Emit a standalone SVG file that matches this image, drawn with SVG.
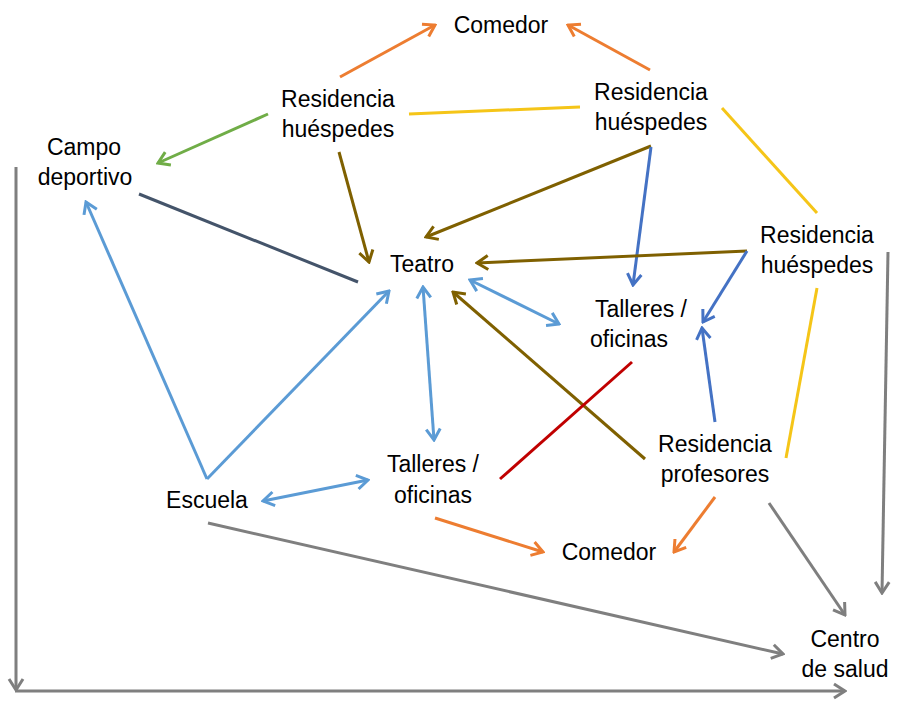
<svg xmlns="http://www.w3.org/2000/svg" width="906" height="707" viewBox="0 0 906 707">
<style>
  text { font-family: "Liberation Sans", Arial, sans-serif; font-size: 23px; fill: #000; text-anchor: middle; }
  line, path.c { stroke-width: 3; fill: none; }
  .or { stroke: #ED7D31; }
  .ye { stroke: #F5C518; }
  .gr { stroke: #70AD47; }
  .nv { stroke: #44546A; }
  .ol { stroke: #7F6000; }
  .bl { stroke: #4472C4; }
  .lb { stroke: #5B9BD5; }
  .rd { stroke: #C00000; }
  .gy { stroke: #7F7F7F; }
  marker path { fill: none; stroke-width: 3; stroke-linejoin: miter; }
</style>
<defs>
  <marker id="a-or" viewBox="-14 -10 16 20" refX="0" refY="0" markerWidth="16" markerHeight="20" markerUnits="userSpaceOnUse" orient="auto-start-reverse"><path d="M-11,-7 L0,0 L-11,7" stroke="#ED7D31"/></marker>
  <marker id="a-gr" viewBox="-14 -10 16 20" refX="0" refY="0" markerWidth="16" markerHeight="20" markerUnits="userSpaceOnUse" orient="auto-start-reverse"><path d="M-11,-7 L0,0 L-11,7" stroke="#70AD47"/></marker>
  <marker id="a-ol" viewBox="-14 -10 16 20" refX="0" refY="0" markerWidth="16" markerHeight="20" markerUnits="userSpaceOnUse" orient="auto-start-reverse"><path d="M-11,-7 L0,0 L-11,7" stroke="#7F6000"/></marker>
  <marker id="a-bl" viewBox="-14 -10 16 20" refX="0" refY="0" markerWidth="16" markerHeight="20" markerUnits="userSpaceOnUse" orient="auto-start-reverse"><path d="M-11,-7 L0,0 L-11,7" stroke="#4472C4"/></marker>
  <marker id="a-lb" viewBox="-14 -10 16 20" refX="0" refY="0" markerWidth="16" markerHeight="20" markerUnits="userSpaceOnUse" orient="auto-start-reverse"><path d="M-11,-7 L0,0 L-11,7" stroke="#5B9BD5"/></marker>
  <marker id="a-gy" viewBox="-14 -10 16 20" refX="0" refY="0" markerWidth="16" markerHeight="20" markerUnits="userSpaceOnUse" orient="auto-start-reverse"><path d="M-11,-7 L0,0 L-11,7" stroke="#7F7F7F"/></marker>
</defs>

<g id="connectors">
  <line class="or" x1="340" y1="77" x2="435" y2="25" marker-end="url(#a-or)"/>
  <line class="or" x1="650" y1="70" x2="568" y2="25" marker-end="url(#a-or)"/>
  <line class="ye" x1="409" y1="114" x2="580" y2="107"/>
  <line class="ye" x1="722" y1="108" x2="817" y2="213"/>
  <line class="ye" x1="817" y1="288" x2="786" y2="458"/>
  <line class="gr" x1="268" y1="114" x2="158" y2="163" marker-end="url(#a-gr)"/>
  <line class="nv" x1="139" y1="194" x2="358" y2="282"/>
  <line class="ol" x1="339" y1="152" x2="369" y2="262" marker-end="url(#a-ol)"/>
  <line class="ol" x1="651" y1="146" x2="426" y2="237" marker-end="url(#a-ol)"/>
  <line class="bl" x1="651" y1="147" x2="633" y2="285" marker-end="url(#a-bl)"/>
  <line class="ol" x1="747" y1="251" x2="477" y2="263" marker-end="url(#a-ol)"/>
  <line class="bl" x1="747" y1="251" x2="703" y2="322" marker-end="url(#a-bl)"/>
  <line class="bl" x1="715" y1="422" x2="702" y2="328" marker-end="url(#a-bl)"/>
  <line class="lb" x1="470" y1="280" x2="559" y2="324" marker-start="url(#a-lb)" marker-end="url(#a-lb)"/>
  <line class="lb" x1="423" y1="287" x2="434" y2="440" marker-start="url(#a-lb)" marker-end="url(#a-lb)"/>
  <line class="ol" x1="645" y1="459" x2="453" y2="292" marker-end="url(#a-ol)"/>
  <line class="rd" x1="500" y1="479" x2="632" y2="362"/>
  <line class="lb" x1="263" y1="501" x2="368" y2="480" marker-start="url(#a-lb)" marker-end="url(#a-lb)"/>
  <line class="lb" x1="207" y1="479" x2="86" y2="202" marker-end="url(#a-lb)"/>
  <line class="lb" x1="207" y1="479" x2="389" y2="291" marker-end="url(#a-lb)"/>
  <line class="or" x1="435" y1="518" x2="543" y2="552" marker-end="url(#a-or)"/>
  <line class="or" x1="715" y1="497" x2="674" y2="552" marker-end="url(#a-or)"/>
  <line class="gy" x1="208" y1="523" x2="783" y2="654" marker-end="url(#a-gy)"/>
  <line class="gy" x1="769" y1="503" x2="845" y2="615" marker-end="url(#a-gy)"/>
  <line class="gy" x1="888" y1="252" x2="882" y2="593" marker-end="url(#a-gy)"/>
  <line class="gy" x1="16" y1="167" x2="16" y2="690" marker-end="url(#a-gy)"/>
  <line class="gy" x1="15" y1="691" x2="845" y2="691" marker-end="url(#a-gy)"/>
</g>

<g id="comedor-top"><text x="501" y="33">Comedor</text></g>
<g id="res-huespedes-1"><text x="338" y="107">Residencia</text><text x="338" y="137">huéspedes</text></g>
<g id="res-huespedes-2"><text x="651" y="100">Residencia</text><text x="651" y="130">huéspedes</text></g>
<g id="res-huespedes-3"><text x="817" y="243">Residencia</text><text x="817" y="273">huéspedes</text></g>
<g id="campo"><text x="84" y="155">Campo</text><text x="85" y="185">deportivo</text></g>
<g id="teatro"><text x="422" y="272">Teatro</text></g>
<g id="talleres-1"><text x="641" y="317">Talleres /</text><text x="629" y="347">oficinas</text></g>
<g id="talleres-2"><text x="433" y="472">Talleres /</text><text x="433" y="503">oficinas</text></g>
<g id="escuela"><text x="207" y="508">Escuela</text></g>
<g id="res-profesores"><text x="715" y="452">Residencia</text><text x="715" y="482">profesores</text></g>
<g id="comedor-bottom"><text x="609" y="560">Comedor</text></g>
<g id="centro-salud"><text x="845" y="647">Centro</text><text x="845" y="677">de salud</text></g>
</svg>
